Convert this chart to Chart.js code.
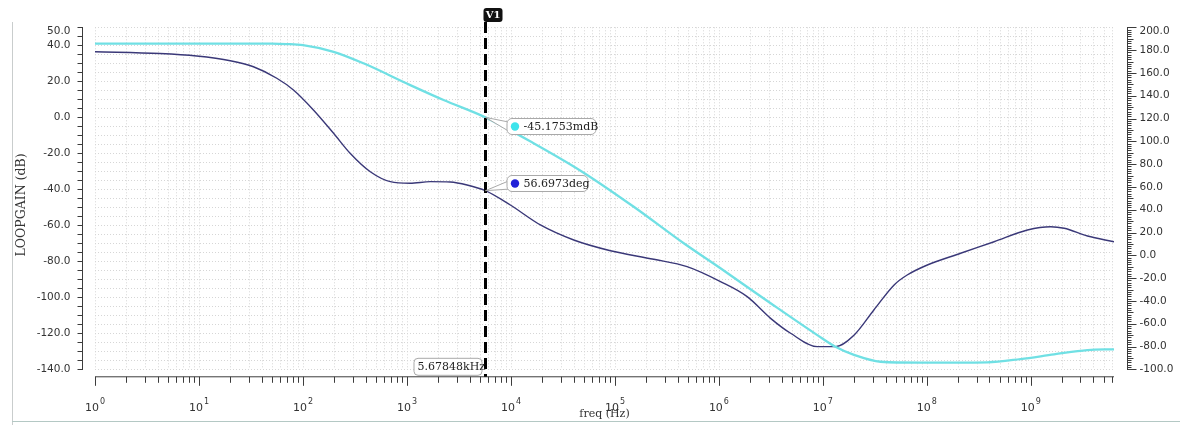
<!DOCTYPE html>
<html>
<head>
<meta charset="utf-8">
<script src="https://cdn.jsdelivr.net/npm/chart.js@4.4.0/dist/chart.umd.min.js"></script>
<style>
  html, body { margin: 0; padding: 0; background: #fff; }
  #wrap { position: relative; width: 1180px; height: 425px; overflow: hidden; }
  #c { position: absolute; left: 0; top: 0; }
  #frameL { position: absolute; left: 12px; top: 22px; width: 1px; height: 403px; background: #c9cdcd; }
  #frameB { position: absolute; left: 12px; top: 421px; width: 1168px; height: 1px; background: #b4c8c4; }
</style>
</head>
<body>
<div id="wrap">
  <canvas id="c" width="1180" height="425"></canvas>
  <div id="frameL"></div>
  <div id="frameB"></div>
</div>
<script>
// Loop gain magnitude (dB) versus frequency (Hz)
const gainFreq = [1, 10, 50, 70, 100, 197, 382, 1076, 2250, 5678.48, 16500, 48300, 151700, 459000,
  1.035e6, 3.14e6, 8.83e6, 1.32e7, 1.99e7, 3.59e7, 8.7e7, 3.82e8, 7.94e8, 1.67e9, 3.5e9, 6.3e9];
const gainDb = [40.9, 40.9, 40.9, 40.7, 40.1, 36.4, 30.0, 17.9, 9.6, -0.0451753, -14.4, -30.2, -49.7, -70.0,
  -83.9, -103.3, -121.0, -127.5, -132.0, -135.8, -136.3, -136.1, -134.3, -131.7, -129.3, -128.9];

// Loop gain phase (deg) versus frequency (Hz)
const phaseFreq = [1, 4.2, 9.5, 20, 33.4, 56, 81, 126, 197, 284, 444, 692, 1072, 1675, 2612, 3784, 5678.48,
  9863, 19190, 40180, 90570, 236600, 494000, 1.035e6, 1.87e6, 3.14e6, 4.89e6, 8.83e6, 1.32e7, 2.0e7,
  3.09e7, 4.84e7, 6.46e7, 1.01e8, 2.11e8, 4.43e8, 9.27e8, 1.55e9, 2.09e9, 3.5e9, 6.3e9];
const phaseDeg = [178.6, 177, 174.8, 170.7, 165.4, 155.3, 145, 127.5, 107, 89.5, 73.3, 64.6, 63.2, 64.6, 64.3, 61.7, 56.6973,
  44.1, 26.6, 13.4, 4.0, -3.5, -10, -23.1, -36.3, -55.3, -68.4, -80.1, -80.1, -69.9,
  -48, -26, -17.3, -8.5, 1.8, 11.9, 22.2, 25.1, 23.7, 16.9, 11.9];

// Vertical cursor V1 and its readouts
const markerFreq = 5678.48;
const markerGain = -0.0451753;
const markerPhase = 56.6973;

// Axis ranges and labelled ticks
const freqMin = 1, freqMax = 6.3e9;
const gainTicks = [-140, -120, -100, -80, -60, -40, -20, 0, 20, 40, 50];
const phaseTicks = [-100, -80, -60, -40, -20, 0, 20, 40, 60, 80, 100, 120, 140, 160, 180, 200];
const decadeExps = [0, 1, 2, 3, 4, 5, 6, 7, 8, 9];

const SANS = '"DejaVu Sans", sans-serif';
const SERIF = '"DejaVu Serif", serif';

function seg(ctx, x1, y1, x2, y2) { ctx.beginPath(); ctx.moveTo(x1, y1); ctx.lineTo(x2, y2); ctx.stroke(); }
function rrect(ctx, x, y, w, h, r) {
  ctx.beginPath();
  ctx.moveTo(x + r, y);
  ctx.arcTo(x + w, y, x + w, y + h, r);
  ctx.arcTo(x + w, y + h, x, y + h, r);
  ctx.arcTo(x, y + h, x, y, r);
  ctx.arcTo(x, y, x + w, y, r);
  ctx.closePath();
}

const bodeDecor = {
  id: 'bodeDecor',
  beforeDatasetsDraw(chart) {
    const { ctx, chartArea: a, scales: { x, yL } } = chart;
    ctx.save();
    ctx.strokeStyle = '#d6d6d6';
    ctx.lineWidth = 1;
    ctx.setLineDash([1, 2]);
    for (let v = -140; v <= 50; v += 5) {
      const py = Math.round(yL.getPixelForValue(v)) + 0.5;
      seg(ctx, a.left, py, a.right, py);
    }
    for (const e of decadeExps) {
      for (let m = 1; m <= 9; m++) {
        const f = m * Math.pow(10, e);
        if (f > freqMax) break;
        const px = Math.round(x.getPixelForValue(f)) + 0.5;
        seg(ctx, px, a.top, px, a.bottom);
      }
    }
    ctx.restore();
  },
  afterDatasetsDraw(chart) {
    const { ctx, chartArea: a, scales: { x, yL, yR } } = chart;
    ctx.save();
    ctx.setLineDash([]);
    ctx.strokeStyle = '#3c3c3c';
    ctx.fillStyle = '#333';
    ctx.lineWidth = 1;

    // left axis (dB)
    const lx = a.left - 12.5;
    seg(ctx, lx, Math.round(yL.getPixelForValue(50)), lx, Math.round(yL.getPixelForValue(-140)) + 1);
    for (let v = -140; v <= 50; v += 5) {
      const py = Math.round(yL.getPixelForValue(v)) + 0.5;
      seg(ctx, lx, py, lx - 5, py);
    }
    ctx.font = '10.5px ' + SANS;
    ctx.textAlign = 'right';
    ctx.textBaseline = 'middle';
    for (const v of gainTicks) {
      const py = Math.max(yL.getPixelForValue(v), a.top + 4);
      ctx.fillText(v.toFixed(1), lx - 12, py);
    }

    // right axis (deg)
    const rx = a.right + 13.5;
    seg(ctx, rx, Math.round(yR.getPixelForValue(200)), rx, Math.round(yR.getPixelForValue(-100)) + 1);
    for (let v = -100; v <= 200; v += 2) {
      const py = Math.round(yR.getPixelForValue(v)) + 0.5;
      const len = v % 20 === 0 ? 9 : (v % 10 === 0 ? 6 : 4);
      seg(ctx, rx, py, rx + len, py);
    }
    ctx.textAlign = 'left';
    for (const v of phaseTicks) {
      const py = Math.max(yR.getPixelForValue(v), a.top + 4);
      ctx.fillText(v.toFixed(1), rx + 12, py);
    }

    // bottom axis (frequency)
    const by = a.bottom + 7.5;
    seg(ctx, a.left, by, a.right, by);
    for (const e of decadeExps) {
      for (let m = 1; m <= 9; m++) {
        const f = m * Math.pow(10, e);
        if (f > freqMax) break;
        const px = Math.round(x.getPixelForValue(f)) + 0.5;
        seg(ctx, px, by, px, by + (m === 1 ? 9 : 6));
      }
    }
    for (const e of decadeExps) {
      const px = x.getPixelForValue(Math.pow(10, e));
      ctx.font = '11px ' + SANS;
      const wBase = ctx.measureText('10').width;
      ctx.font = '8px ' + SANS;
      const wExp = ctx.measureText(String(e)).width;
      const x0 = px - (wBase + 1 + wExp) / 2;
      ctx.textAlign = 'left';
      ctx.textBaseline = 'alphabetic';
      ctx.font = '11px ' + SANS;
      ctx.fillText('10', x0, 411);
      ctx.font = '8px ' + SANS;
      ctx.fillText(String(e), x0 + wBase + 1, 404);
    }

    // axis titles
    ctx.fillStyle = '#333';
    ctx.font = '11px ' + SERIF;
    ctx.textAlign = 'center';
    ctx.textBaseline = 'middle';
    ctx.fillText('freq (Hz)', (a.left + a.right) / 2, 414);
    ctx.save();
    ctx.translate(22, 205);
    ctx.rotate(-Math.PI / 2);
    ctx.font = '12.5px ' + SERIF;
    ctx.fillText('LOOPGAIN (dB)', 0, 0);
    ctx.restore();

    // cursor V1
    const mx = Math.round(x.getPixelForValue(markerFreq)) + 0.5;
    ctx.strokeStyle = '#000';
    ctx.lineWidth = 3;
    ctx.setLineDash([11, 5]);
    seg(ctx, mx, 22, mx, by);
    ctx.setLineDash([]);
    ctx.fillStyle = '#111';
    rrect(ctx, mx - 2, 8, 19, 14, 3);
    ctx.fill();
    ctx.fillStyle = '#fff';
    ctx.font = 'bold 10px ' + SERIF;
    ctx.textAlign = 'center';
    ctx.fillText('V1', mx + 7.5, 15.5);

    // readout callouts
    const callout = (py, bx, btop, w, h, tip, dotColor, text) => {
      ctx.lineWidth = 1;
      ctx.strokeStyle = '#a9a9a9';
      ctx.fillStyle = '#fff';
      ctx.beginPath();
      ctx.moveTo(mx, py);
      ctx.lineTo(tip[0], tip[1]);
      ctx.lineTo(tip[2], tip[3]);
      ctx.closePath();
      ctx.fill();
      ctx.stroke();
      rrect(ctx, bx + 0.5, btop + 0.5, w, h, 5);
      ctx.fill();
      ctx.stroke();
      ctx.fillStyle = dotColor;
      ctx.beginPath();
      ctx.arc(bx + 8.5, btop + h / 2 + 0.5, 4.2, 0, Math.PI * 2);
      ctx.fill();
      ctx.fillStyle = '#222';
      ctx.font = '11px ' + SERIF;
      ctx.textAlign = 'left';
      ctx.textBaseline = 'middle';
      ctx.fillText(text, bx + 17, btop + h / 2 + 1);
    };
    const gy = yL.getPixelForValue(markerGain);
    const gbx = mx + 21, gbt = Math.round(gy) + 1;
    callout(gy, gbx, gbt, 89, 16, [gbx + 2, gbt + 4, gbx + 7, gbt + 16], '#3de4ec',
      (markerGain * 1000).toFixed(4) + 'mdB');
    const py = yR.getPixelForValue(markerPhase);
    const pbx = mx + 21, pbt = Math.round(py) - 16;
    callout(py, pbx, pbt, 81, 16, [pbx + 2, pbt + 6, pbx + 4, pbt + 14], '#2222d8',
      markerPhase.toFixed(4) + 'deg');

    // cursor frequency readout
    ctx.strokeStyle = '#a9a9a9';
    ctx.fillStyle = '#fff';
    rrect(ctx, mx - 71.5, a.bottom - 11, 68, 17, 4);
    ctx.fill();
    ctx.stroke();
    ctx.fillStyle = '#222';
    ctx.font = '11px ' + SERIF;
    ctx.textAlign = 'left';
    ctx.fillText((markerFreq / 1000).toFixed(5) + 'kHz', mx - 68, a.bottom - 2);
    ctx.restore();
  }
};

const pairs = (xs, ys) => xs.map((f, i) => ({ x: f, y: ys[i] }));

new Chart(document.getElementById('c').getContext('2d'), {
  type: 'line',
  data: {
    datasets: [
      {
        label: 'LOOPGAIN dB20',
        data: pairs(gainFreq, gainDb),
        yAxisID: 'yL',
        borderColor: '#70e0e4',
        borderWidth: 2.3,
        pointRadius: 0,
        cubicInterpolationMode: 'monotone',
        fill: false
      },
      {
        label: 'LOOPGAIN phase',
        data: pairs(phaseFreq, phaseDeg),
        yAxisID: 'yR',
        borderColor: '#3a3878',
        borderWidth: 1.4,
        pointRadius: 0,
        cubicInterpolationMode: 'monotone',
        fill: false
      }
    ]
  },
  options: {
    responsive: false,
    animation: false,
    devicePixelRatio: 1,
    events: [],
    layout: { padding: { left: 95, right: 66, top: 27.3, bottom: 55.7 } },
    plugins: { legend: { display: false }, tooltip: { enabled: false } },
    scales: {
      x: { type: 'logarithmic', min: freqMin, max: freqMax, display: false },
      yL: { type: 'linear', position: 'left', min: -140, max: 50, display: false },
      yR: { type: 'linear', position: 'right', min: -100, max: 200, display: false }
    }
  },
  plugins: [bodeDecor]
});
</script>
</body>
</html>
